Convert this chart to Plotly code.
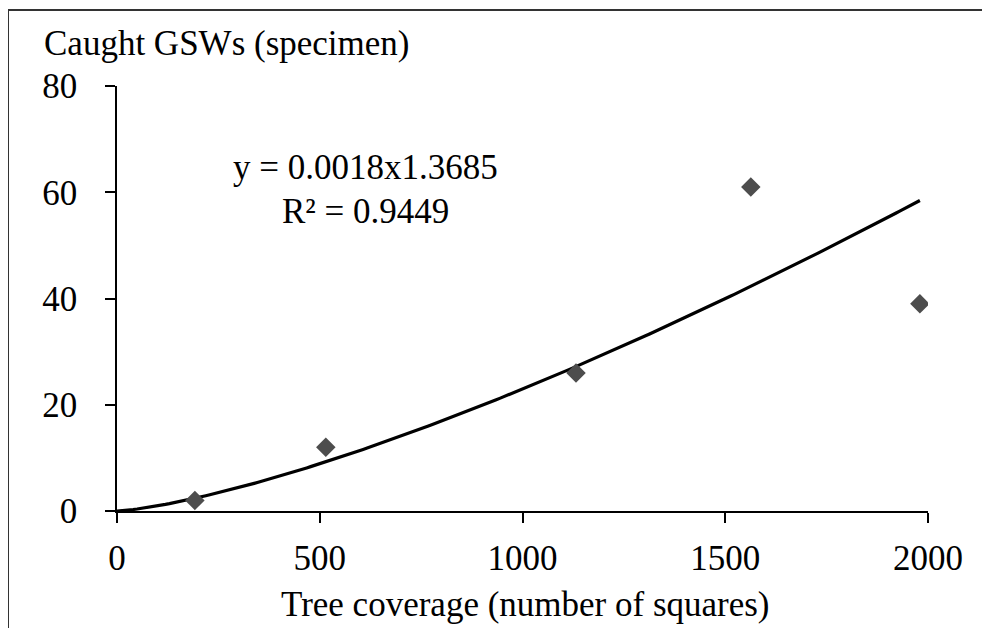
import numpy as np
import plotly.graph_objects as go

tree_coverage = [192, 515, 1132, 1563, 1980]
caught_gsws = [2, 12, 26, 61, 39]

# Power trendline coefficients as printed on the chart
trend_coef = 0.0018
trend_exp = 1.3685
trend_x_max = 1980

x_ticks = [0, 500, 1000, 1500, 2000]
y_ticks = [0, 20, 40, 60, 80]

font_family = "Liberation Serif, Times New Roman, serif"
FS = 35

tx = np.linspace(0, trend_x_max, 200)
ty = trend_coef * tx ** trend_exp

fig = go.Figure()
fig.add_trace(go.Scatter(x=tx, y=ty, mode="lines",
                         line=dict(color="black", width=3.2),
                         hoverinfo="skip", showlegend=False))
fig.add_trace(go.Scatter(x=tree_coverage, y=caught_gsws, mode="markers",
                         marker=dict(symbol="diamond", size=15, color="#4d4d4d"),
                         showlegend=False))

axis_common = dict(showline=True, linecolor="black", linewidth=1.5,
                   ticks="outside", ticklen=10, tickcolor="black", tickwidth=1.5,
                   showgrid=False, zeroline=False,
                   tickfont=dict(family=font_family, size=FS, color="black"))

fig.update_xaxes(range=[0, 2000], tickvals=x_ticks, ticklabelstandoff=5, **axis_common)
fig.update_yaxes(range=[0, 80], tickvals=y_ticks, ticklabelstandoff=21, **axis_common)

fig.add_annotation(text="y = 0.0018x1.3685", x=614, y=64.6, xref="x", yref="y",
                   showarrow=False, font=dict(family=font_family, size=FS, color="black"))
fig.add_annotation(text="R² = 0.9449", x=614, y=56.3, xref="x", yref="y",
                   showarrow=False, font=dict(family=font_family, size=FS, color="black"))
fig.add_annotation(text="Caught GSWs (specimen)", x=-0.0925, y=1.101, xref="paper", yref="paper",
                   xanchor="left", yanchor="middle", showarrow=False,
                   font=dict(family=font_family, size=FS, color="black"))
fig.add_annotation(text="Tree coverage (number of squares)", x=0.504, y=-0.2197,
                   xref="paper", yref="paper", xanchor="center", yanchor="middle",
                   showarrow=False, font=dict(family=font_family, size=FS, color="black"))

# Outer frame (top and left edges visible)
fig.add_shape(type="line", xref="paper", yref="paper",
              x0=(8 - 117) / 811, y0=(511.5 - 640) / 425.5,
              x1=(8 - 117) / 811, y1=(511.5 - 10) / 425.5,
              line=dict(color="#333333", width=2))
fig.add_shape(type="line", xref="paper", yref="paper",
              x0=(8 - 117) / 811, y0=(511.5 - 10) / 425.5,
              x1=(995 - 117) / 811, y1=(511.5 - 10) / 425.5,
              line=dict(color="#333333", width=2))

# page body has an 8px margin; size the figure to fit the window
fig.update_layout(width=974, height=620,
                  margin=dict(l=109, r=54, t=78, b=116.5),
                  paper_bgcolor="white", plot_bgcolor="white",
                  showlegend=False)

fig.write_html("out.html")
